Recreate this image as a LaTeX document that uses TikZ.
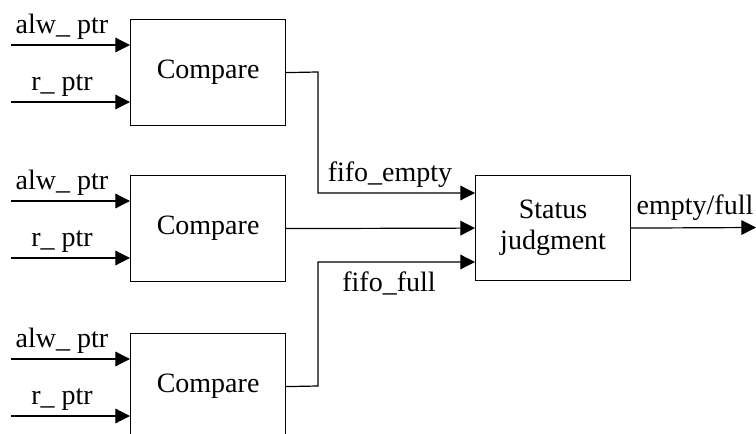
\documentclass[tikz,border=0pt]{standalone}
\usepackage{fontspec}
\setmainfont{Liberation Serif}
\usetikzlibrary{arrows.meta}

\tikzset{
    sig/.style={line width=0.9pt, -{Triangle[length=11pt,width=11pt]}},
    wire/.style={line width=0.9pt},
    blk/.style={draw, line width=0.9pt, inner sep=0pt, minimum width=116.25pt, minimum height=79.5pt, align=center},
    lbl/.style={inner sep=0pt, anchor=base}
}

\begin{document}
\begin{tikzpicture}[x=0.75pt, y=-0.75pt, font=\fontsize{21}{23.25}\selectfont]

    \clip (0,0) rectangle (756,434);

    % the three comparators with their inputs
    \foreach \n/\t in {A/19, B/175, C/333} {
        \node[blk, anchor=north west] (cmp\n) at (130,\t) {Compare};
        \coordinate (alw\n) at (11,\t+26);
        \coordinate (rp\n) at (11,\t+83);
        \draw[sig] (alw\n) -- (alw\n -| cmp\n.west);
        \draw[sig] (rp\n) -- (rp\n -| cmp\n.west);
        \node[lbl] at (62,\t+14.5) {alw\_ ptr};
        \node[lbl] at (62,\t+71.5) {r\_ ptr};
    }

    % status block
    \node[blk, minimum height=78.75pt, anchor=north west] (status) at (475,175) {Status\\judgment};

    \draw[sig] (cmpA.east) -- (318,72) |- (status.west |- 0,193);
    \draw[sig] (cmpB.east) -- (status.west);
    \draw[sig] (cmpC.east) -- (318,386) |- (status.west |- 0,262);

    \coordinate (out) at (756,227.5);
    \draw[sig] (status.east) -- (out);

    \node[lbl] at (390,182) {fifo\_empty};
    \node[lbl] at (389,292) {fifo\_full};
    \node[lbl] at (695,215) {empty/full};

\end{tikzpicture}
\end{document}
